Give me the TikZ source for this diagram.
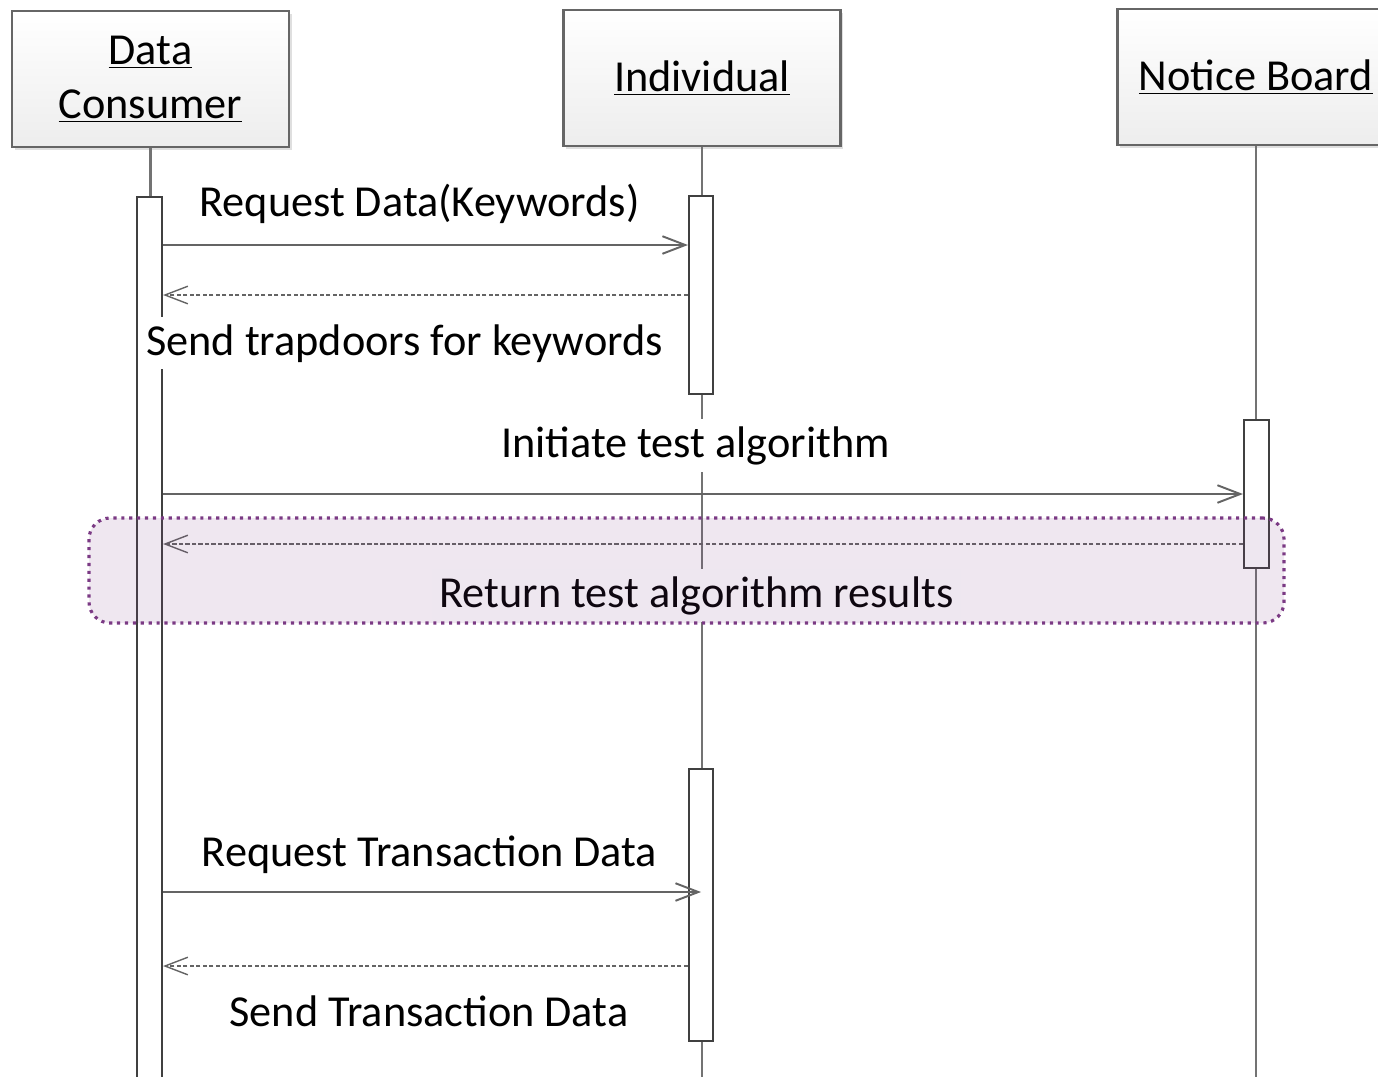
\documentclass[tikz,border=0pt]{standalone}
\usepackage{fontspec}
\setmainfont{Carlito}
\usepackage{tikz}
\usetikzlibrary{arrows.meta,positioning,fit,shadows}
\definecolor{grpc}{RGB}{123,58,132}
\definecolor{linec}{RGB}{100,100,100}
\newcommand\seqfont{\fontsize{25.2}{30.6}\selectfont}

\tikzset{
  head/.style={draw=black!60,line width=1.2pt,top color=white,bottom color=black!7,
               minimum width=5.54cm,minimum height=2.72cm,align=center,font=\seqfont,
               drop shadow={shadow xshift=1.5pt,shadow yshift=-1.5pt,opacity=0.25}},
  lifeline/.style={draw=black!55,line width=1.2pt},
  actbar/.style={draw=black!75,fill=white,line width=1.2pt,inner sep=0pt},
  msg/.style={draw=linec,line width=1.1pt,-{Straight Barb[length=13pt,width=10pt]}},
  reply/.style={msg,line width=0.8pt,dash pattern=on 2.5pt off 1.2pt},
  msglabel/.style={fill=white,inner sep=4pt,anchor=base,font=\seqfont},
  group/.style={draw=grpc,line width=1.8pt,dash pattern=on 1.8pt off 2.7pt,
                rounded corners=12pt,fill=grpc,fill opacity=0.12,inner sep=0pt}
}

\begin{document}
\begin{tikzpicture}[x=0.02cm,y=-0.02cm]
\useasboundingbox (0,0) rectangle (1378,1076);

% heads
\node[head] (dc) at (150.5,79) {\underline{Data}\\\underline{Consumer}};
\node[head] (ind) at (702,78) {\underline{Individual}};
\node[head] (nb) at (1256,77) {\underline{Notice Board}};

% lifelines
\coordinate (bot) at (0,1085);
\draw[lifeline] (dc.south) -- (dc.south |- bot);
\draw[lifeline] (ind.south) -- (ind.south |- bot);
\draw[lifeline] (nb.south) -- (nb.south |- bot);

% activation bars
\node[actbar,fit={(137,197) (162,1085)}] (dcbar) {};
\node[actbar,fit={(689,196) (713,394)}] (indA) {};
\node[actbar,fit={(1244,420) (1269,568)}] (nbbar) {};
\node[actbar,fit={(689,769) (713,1041)}] (indB) {};

% messages
\coordinate (m1) at (0,245);
\coordinate (m2) at (0,295);
\coordinate (m3) at (0,494);
\coordinate (m4) at (0,544);
\coordinate (m5) at (0,892);
\coordinate (m6) at (0,966);
\draw[msg] (dcbar.east |- m1) -- (indA.west |- m1);
\draw[reply] (indA.west |- m2) -- (dcbar.east |- m2);
\draw[msg] (dcbar.east |- m3) -- (nbbar.west |- m3);
\draw[reply] (nbbar.west |- m4) -- (dcbar.east |- m4);
\draw[msg] (dcbar.east |- m5) -- (indB.center |- m5);
\draw[reply] (indB.west |- m6) -- (dcbar.east |- m6);

% labels
\node[msglabel] (l1) at (419.5,216) {Request Data(Keywords)};
\node[msglabel] (l2) at (404.5,355) {Send trapdoors for keywords};
\node[msglabel] (l3) at (695.5,457) {Initiate test algorithm};
\node[msglabel] (l4) at (696.5,607) {Return test algorithm results};
\node[msglabel] (l5) at (429.5,866) {Request Transaction Data};
\node[msglabel] (l6) at (429,1026) {Send Transaction Data};

% highlighted reply
\node[group,fit={(89,518) (1284,623)}] (grp) {};
\end{tikzpicture}
\end{document}
